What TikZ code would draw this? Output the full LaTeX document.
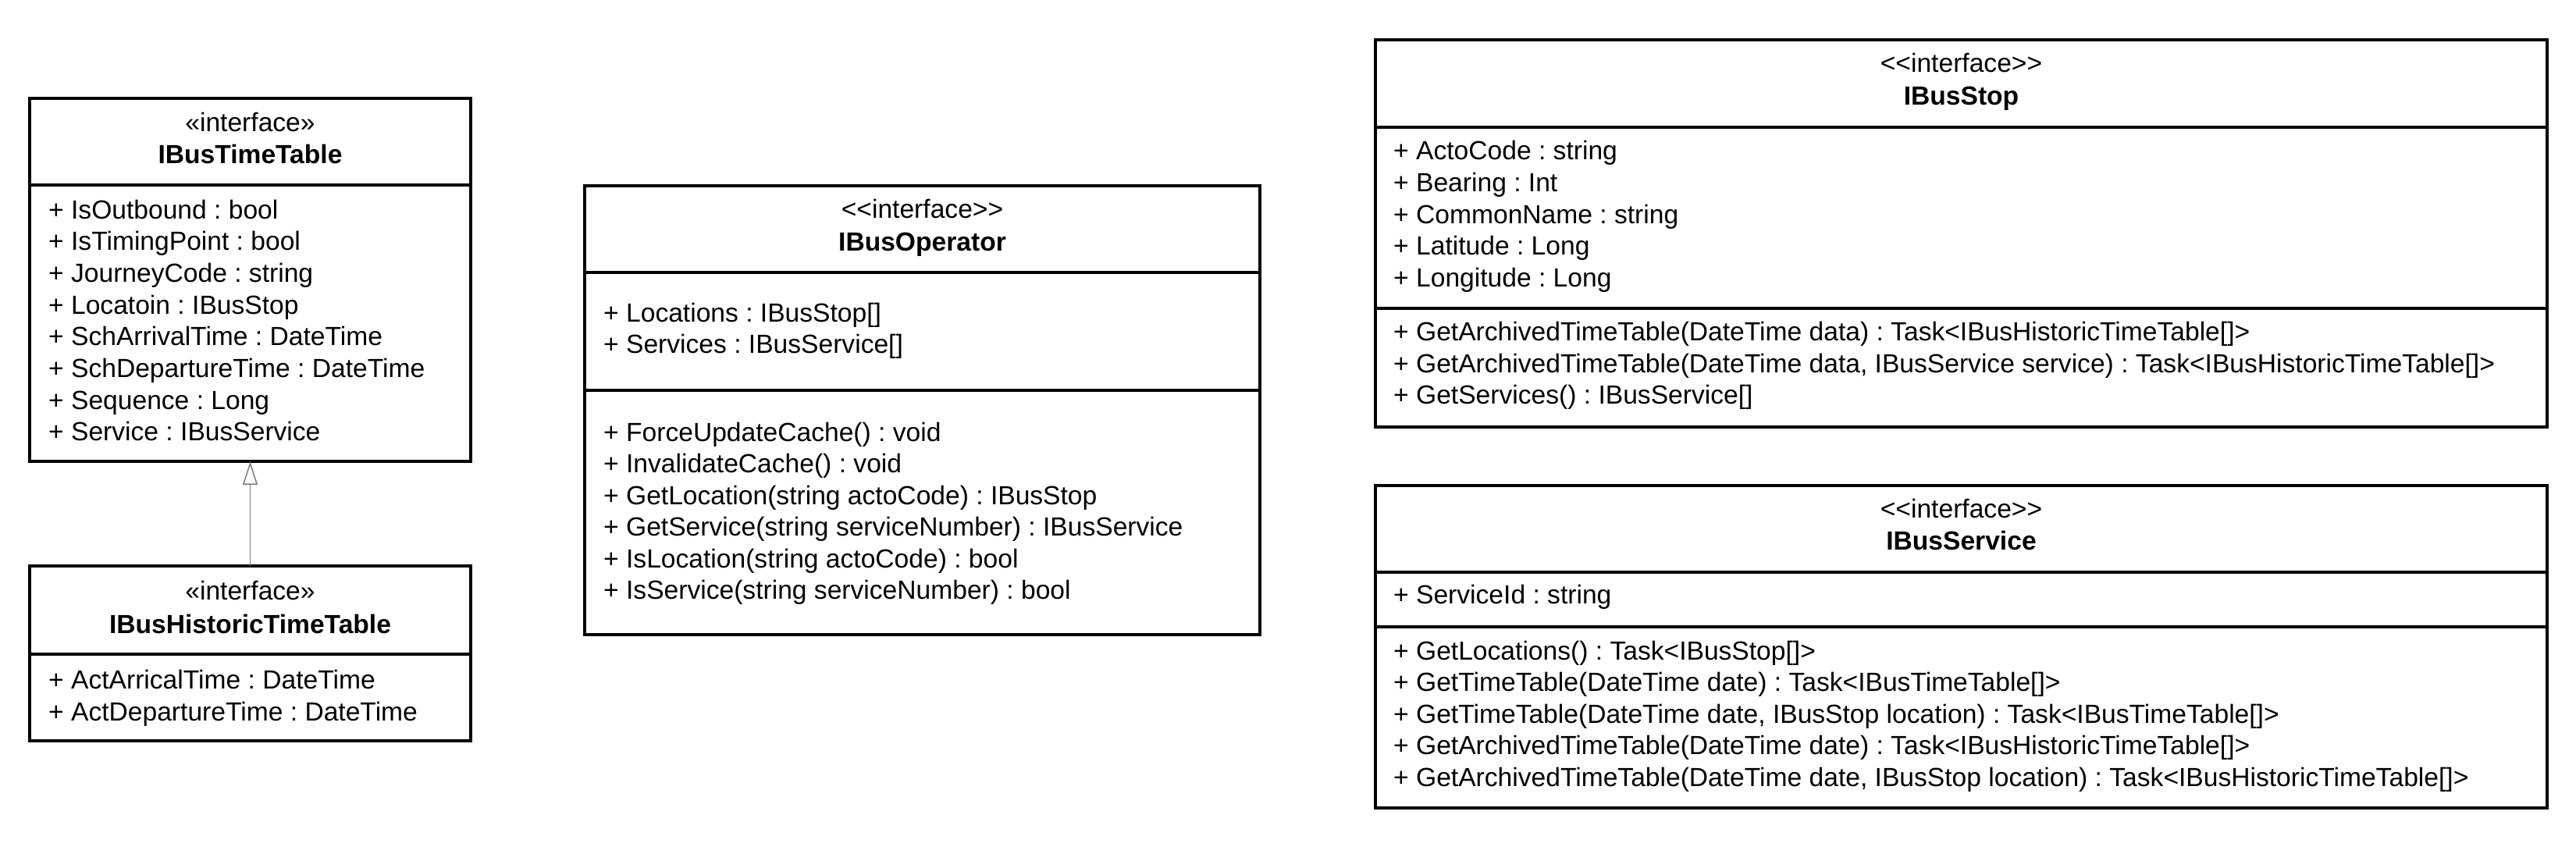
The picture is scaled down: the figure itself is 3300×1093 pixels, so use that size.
\documentclass[tikz,border=0pt]{standalone}
\usepackage{fontspec}
\newfontfamily\umlfont{Liberation Sans}
\usetikzlibrary{arrows.meta}
\frenchspacing
\begin{document}
\frenchspacing
\begin{tikzpicture}[x=1pt,y=-1pt,
  box/.style={draw=black, line width=3.4pt, fill=none, inner sep=0pt, outer sep=0pt, anchor=north west},
  sep/.style={line width=3.4pt},
  txt/.style={anchor=base west, inner sep=0pt, font={\umlfont\frenchspacing\fontsize{33.6}{40}\selectfont}},
  ttl/.style={anchor=base, inner sep=0pt, font={\umlfont\frenchspacing\fontsize{33.6}{40}\selectfont}},
  ttlb/.style={anchor=base, inner sep=0pt, font={\umlfont\bfseries\fontsize{33.6}{40}\selectfont}},
  inherit/.style={draw=black!50, line width=1.6pt, -{Triangle[open, length=30pt, width=19pt]}}]
\useasboundingbox (0,0) rectangle (3300,1093);

% ---------- IBusTimeTable ----------
\node[box, minimum width=565pt, minimum height=465pt] (tt) at (38,126) {};
\draw[sep] (tt.west |- 0,237) -- (tt.east |- 0,237);
\node[ttl]  (ttst) at (320.5,168) {«interface»};
\node[ttlb] (ttnm) at (320.5,209.5) {IBusTimeTable};
\node[txt] (tta1) at (62,280.0) {+ IsOutbound : bool};
\node[txt] (tta2) at (62,320.7) {+ IsTimingPoint : bool};
\node[txt] (tta3) at (62,361.4) {+ JourneyCode : string};
\node[txt] (tta4) at (62,402.1) {+ Locatoin : IBusStop};
\node[txt] (tta5) at (62,442.8) {+ SchArrivalTime : DateTime};
\node[txt] (tta6) at (62,483.5) {+ SchDepartureTime : DateTime};
\node[txt] (tta7) at (62,524.2) {+ Sequence : Long};
\node[txt] (tta8) at (62,564.9) {+ Service : IBusService};

% ---------- IBusHistoricTimeTable ----------
\node[box, minimum width=565pt, minimum height=224pt] (htt) at (38,725) {};
\draw[sep] (htt.west |- 0,838) -- (htt.east |- 0,838);
\node[ttl]  (httst) at (320.5,768.5) {«interface»};
\node[ttlb] (httnm) at (320.5,811) {IBusHistoricTimeTable};
\node[txt] (htta1) at (62,882.5) {+ ActArricalTime : DateTime};
\node[txt] (htta2) at (62,923.2) {+ ActDepartureTime : DateTime};

\draw[inherit] (htt.north) -- (tt.south);

% ---------- IBusOperator ----------
\node[box, minimum width=865pt, minimum height=575pt] (op) at (749,238) {};
\draw[sep] (op.west |- 0,349) -- (op.east |- 0,349);
\draw[sep] (op.west |- 0,500) -- (op.east |- 0,500);
\node[ttl]  (opst) at (1181.5,279.5) {<<interface>>};
\node[ttlb] (opnm) at (1181.5,321) {IBusOperator};
\node[txt] (opa1) at (773,412.5) {+ Locations : IBusStop[]};
\node[txt] (opa2) at (773,452.5) {+ Services : IBusService[]};
\node[txt] (opm1) at (773,565.0) {+ ForceUpdateCache() : void};
\node[txt] (opm2) at (773,605.5) {+ InvalidateCache() : void};
\node[txt] (opm3) at (773,646.0) {+ GetLocation(string actoCode) : IBusStop};
\node[txt] (opm4) at (773,686.5) {+ GetService(string serviceNumber) : IBusService};
\node[txt] (opm5) at (773,727.0) {+ IsLocation(string actoCode) : bool};
\node[txt] (opm6) at (773,767.5) {+ IsService(string serviceNumber) : bool};

% ---------- IBusStop ----------
\node[box, minimum width=1501pt, minimum height=496pt] (bs) at (1762,51) {};
\draw[sep] (bs.west |- 0,163) -- (bs.east |- 0,163);
\draw[sep] (bs.west |- 0,395) -- (bs.east |- 0,395);
\node[ttl]  (bsst) at (2512.5,92) {<<interface>>};
\node[ttlb] (bsnm) at (2512.5,134) {IBusStop};
\node[txt] (bsa1) at (1785,204.7) {+ ActoCode : string};
\node[txt] (bsa2) at (1785,245.3) {+ Bearing : Int};
\node[txt] (bsa3) at (1785,286.0) {+ CommonName : string};
\node[txt] (bsa4) at (1785,326.6) {+ Latitude : Long};
\node[txt] (bsa5) at (1785,367.2) {+ Longitude : Long};
\node[txt] (bsm1) at (1785,436.6) {+ GetArchivedTimeTable(DateTime data) : Task<IBusHistoricTimeTable[]>};
\node[txt] (bsm2) at (1785,477.2) {+ GetArchivedTimeTable(DateTime data, IBusService service) : Task<IBusHistoricTimeTable[]>};
\node[txt] (bsm3) at (1785,517.8) {+ GetServices() : IBusService[]};

% ---------- IBusService ----------
\node[box, minimum width=1501pt, minimum height=413pt] (sv) at (1762,622) {};
\draw[sep] (sv.west |- 0,733) -- (sv.east |- 0,733);
\draw[sep] (sv.west |- 0,803) -- (sv.east |- 0,803);
\node[ttl]  (svst) at (2512.5,663) {<<interface>>};
\node[ttlb] (svnm) at (2512.5,704) {IBusService};
\node[txt] (sva1) at (1785,773.0) {+ ServiceId : string};
\node[txt] (svm1) at (1785,845.0) {+ GetLocations() : Task<IBusStop[]>};
\node[txt] (svm2) at (1785,885.5) {+ GetTimeTable(DateTime date) : Task<IBusTimeTable[]>};
\node[txt] (svm3) at (1785,926.0) {+ GetTimeTable(DateTime date, IBusStop location) : Task<IBusTimeTable[]>};
\node[txt] (svm4) at (1785,966.5) {+ GetArchivedTimeTable(DateTime date) : Task<IBusHistoricTimeTable[]>};
\node[txt] (svm5) at (1785,1007.0) {+ GetArchivedTimeTable(DateTime date, IBusStop location) : Task<IBusHistoricTimeTable[]>};
\end{tikzpicture}
\end{document}
